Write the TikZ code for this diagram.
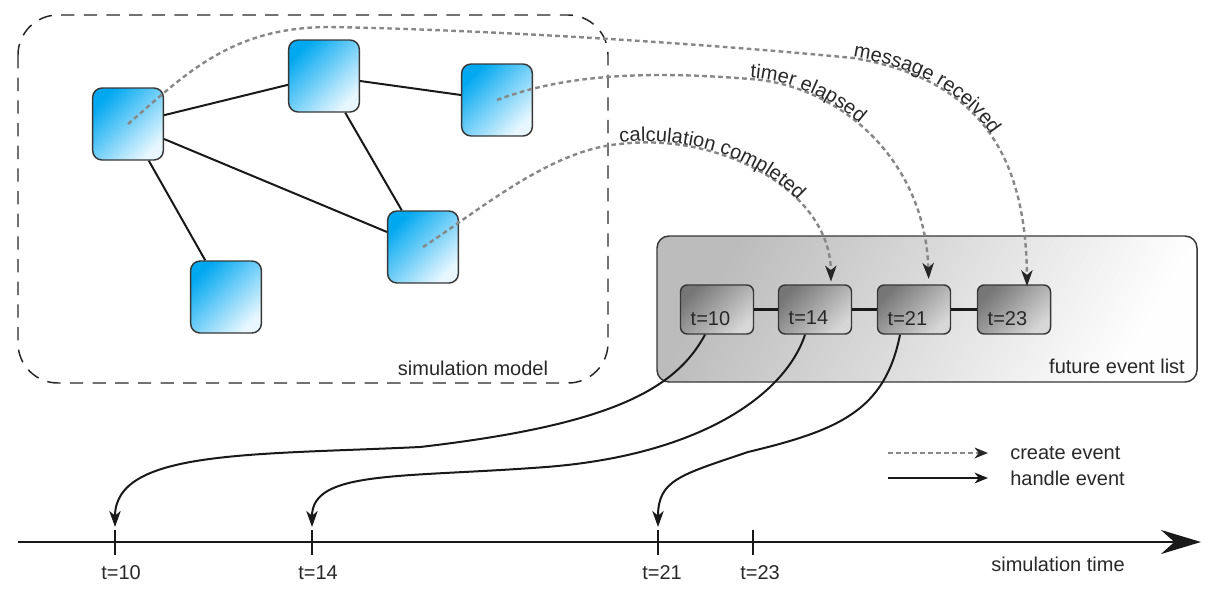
\documentclass[tikz,border=0pt]{standalone}
\usepackage{fontspec}
\setmainfont{Liberation Sans}
\usetikzlibrary{arrows.meta,decorations.text,calc}
\definecolor{bluedark}{RGB}{0,168,240}
\definecolor{bluelight}{RGB}{232,247,255}
\definecolor{evdark}{RGB}{118,118,118}
\definecolor{evlight}{RGB}{215,215,215}
\definecolor{condark}{RGB}{188,188,188}
\definecolor{conlight}{RGB}{254,254,254}
\definecolor{edgegray}{RGB}{55,55,55}
\definecolor{dotgray}{RGB}{135,135,135}
\definecolor{txt}{RGB}{40,40,40}
\begin{document}
\begin{tikzpicture}[x=0.75pt,y=-0.75pt,
  lbl/.style={font=\fontsize{15}{18}\selectfont, text=txt, inner sep=0pt},
  agent/.style={draw=edgegray, line width=1.1pt, rounded corners=7pt, minimum width=53pt, minimum height=54pt, inner sep=0pt, top color=bluedark, bottom color=bluelight, shading angle=45},
  evbox/.style={draw=edgegray, line width=1.1pt, rounded corners=5pt, minimum width=54.75pt, minimum height=36.75pt, inner sep=0pt, top color=evdark, bottom color=evlight, shading angle=45},
  container/.style={draw=edgegray, line width=1.1pt, rounded corners=9pt, minimum width=405pt, minimum height=109.5pt, inner sep=0pt, top color=condark, bottom color=conlight, shading angle=60},
  modelframe/.style={draw=black!85, line width=1.1pt, dash pattern=on 10pt off 7pt, rounded corners=30pt},
  link/.style={line width=1.5pt, black!90},
  evlink/.style={line width=1.8pt, black!90},
  create/.style={draw=dotgray, line width=1.8pt, dash pattern=on 3.5pt off 2.5pt, -{Stealth[length=12pt,width=8.5pt,inset=3.5pt,black!85]}},
  handle/.style={draw=black!90, line width=1.5pt, -{Stealth[length=12pt,width=8.5pt,inset=3.5pt]}},
  tick/.style={line width=1.5pt, black!90}
]
\useasboundingbox (0,0) rectangle (1216,600);

% simulation model frame
\draw[modelframe] (18,15) rectangle (608,383);
\node[lbl] (sm) at (473,368) {simulation model};

% agents
\node[agent] (A) at (128,124) {};
\node[agent] (B) at (324,76) {};
\node[agent] (C) at (497,100) {};
\node[agent] (D) at (423,247) {};
\node[agent] (E) at (226,297) {};
\draw[link] (A) -- (B);
\draw[link] (B) -- (C);
\draw[link] (A) -- (D);
\draw[link] (B) -- (D);
\draw[link] (A) -- (E);

% future event list
\node[container] (fel) at (927,309) {};
\node[lbl] (fl) at (1117,366) {future event list};
\node[evbox] (e10) at (717,309.5) {};
\node[evbox] (e14) at (815,309.5) {};
\node[evbox] (e21) at (914,309.5) {};
\node[evbox] (e23) at (1014,309.5) {};
\draw[evlink] (e10) -- (e14);
\draw[evlink] (e14) -- (e21);
\draw[evlink] (e21) -- (e23);
\node[lbl, anchor=west] (l10) at ([xshift=8pt,yshift=-6.5pt]e10.west) {t=10};
\node[lbl, anchor=west] (l14) at ([xshift=8pt,yshift=-6.5pt]e14.west) {t=14};
\node[lbl, anchor=west] (l21) at ([xshift=8pt,yshift=-6.5pt]e21.west) {t=21};
\node[lbl, anchor=west] (l23) at ([xshift=8pt,yshift=-6.5pt]e23.west) {t=23};

% create event curves
\coordinate (msgT) at (853,58);
\coordinate (tmT) at (750,79);
\coordinate (ccT) at (620,144);
\draw[create] (A.center) .. controls (185,75) and (230,27) .. (330,27) .. controls (500,30) and (720,45) .. (msgT) .. controls (975,78) and (1026,150) .. ([xshift=9.75pt,yshift=-1.5pt]e23.north);
\path[decorate, decoration={text along path, text color=txt, raise=0.8pt, text={|\fontsize{15}{18}\selectfont|message received}}] (msgT) .. controls (975,78) and (1026,150) .. ([xshift=9.75pt,yshift=-1.5pt]e23.north);

\draw[create] (C.center) .. controls (560,76) and (640,70) .. (tmT) .. controls (840,85) and (925,160) .. ([xshift=11pt,yshift=4pt]e21.north);
\path[decorate, decoration={text along path, text color=txt, raise=0.8pt, text={|\fontsize{15}{18}\selectfont|timer elapsed}}] (tmT) .. controls (840,85) and (925,160) .. ([xshift=11pt,yshift=4pt]e21.north);

\draw[create] (D.center) .. controls (480,210) and (550,150) .. (ccT) .. controls (720,132) and (830,190) .. ([xshift=12pt,yshift=2pt]e14.north);
\path[decorate, decoration={text along path, text color=txt, raise=0.8pt, text={|\fontsize{15}{18}\selectfont|calculation completed}}] (ccT) .. controls (720,132) and (830,190) .. ([xshift=12pt,yshift=2pt]e14.north);

% time axis
\coordinate (ax0) at (18,542);
\coordinate (ax1) at (1201,542);
\draw[line width=2pt, black!90, -{Stealth[length=30pt,width=18pt,inset=10pt]}] (ax0) -- (ax1);
\coordinate (tk10) at (115,542);
\coordinate (tk14) at (312,542);
\coordinate (tk21) at (658,542);
\coordinate (tk23) at (753,542);
\foreach \t in {tk10,tk14,tk21,tk23} {
  \draw[tick] ([yshift=9pt]\t) -- ([yshift=-9.75pt]\t);
}
\node[lbl] (t10) at (121,573) {t=10};
\node[lbl] (t14) at (318,573) {t=14};
\node[lbl] (t21) at (662,573) {t=21};
\node[lbl] (t23) at (760,573) {t=23};
\node[lbl] (st) at (1058,564) {simulation time};

% handle event curves
\coordinate (h10) at (115,527);
\coordinate (h14) at (312,527);
\coordinate (h21) at (658,527);
\draw[handle] ([xshift=-9pt]e10.south) .. controls (675,390) and (610,425) .. (420,447) .. controls (250,455) and (115,450) .. (h10);
\draw[handle] ([xshift=-7.5pt]e14.south) .. controls (785,395) and (700,455) .. (546,467) .. controls (400,478) and (312,470) .. (h14);
\draw[handle] ([xshift=-10.5pt]e21.south) .. controls (885,410) and (840,430) .. (748,452) .. controls (680,475) and (658,480) .. (h21);

% legend
\coordinate (lga) at (888,453);
\coordinate (lgb) at (988,453);
\coordinate (lgc) at (888,478);
\coordinate (lgd) at (988,478);
\draw[create, -{Stealth[length=10pt,width=8pt,inset=3pt,black!85]}] (lga) -- (lgb);
\draw[handle, -{Stealth[length=10pt,width=8pt,inset=3pt]}] (lgc) -- (lgd);
\node[lbl, anchor=west] (lce) at (1010,453) {create event};
\node[lbl, anchor=west] (lhe) at (1010,478) {handle event};
\end{tikzpicture}
\end{document}
